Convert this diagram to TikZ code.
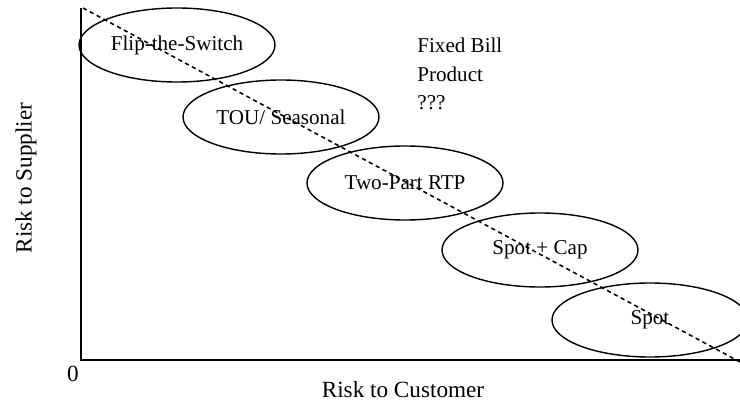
\documentclass[tikz,border=0pt]{standalone}
\usepackage{fontspec}
\setmainfont{Liberation Serif}
\usetikzlibrary{shapes.geometric,positioning}

\begin{document}
\begin{tikzpicture}[line width=1pt, font=\fontsize{15}{20.5}\selectfont,
  plan/.style={ellipse, draw, line width=1pt, minimum width=4.9cm, minimum height=1.85cm, inner sep=0pt},
  axlabel/.style={font=\fontsize{16.5}{20}\selectfont}]
  \useasboundingbox (0,0) rectangle (18.5,10.125);
  % axes
  \coordinate (origin) at (2.025,1.125);
  \coordinate (ytop) at (2.025,9.925);
  \coordinate (xend) at (18.5,1.125);
  \draw[line width=1.4pt] (ytop) -- (origin) -- (xend);
  \node[axlabel] (zero) at (1.82,0.78) {0};
  \node[axlabel] (xlabel) at (10.075,0.375) {Risk to Customer};
  \node[axlabel, rotate=90] (ylabel) at (0.65,5.675) {Risk to Supplier};

  % products
  \node[plan] (flip) at (4.425,9.0) {Flip-the-Switch};
  \node[plan] (tou) at (7.025,7.2) {TOU/ Seasonal};
  \node[plan] (rtp) at (10.125,5.55) {Two-Part RTP};
  \node[plan] (spotcap) at (13.5,3.875) {Spot + Cap};
  \node[plan] (spot) at (16.25,2.125) {Spot};
  \node[align=left, anchor=west] (fixed) at (10.3,8.275) {Fixed Bill\\Product\\???};

  % trade-off line
  \coordinate (dtop) at (2.075,9.925);
  \coordinate (dend) at (18.5,1.075);
  \draw[dashed, dash pattern=on 3pt off 2.5pt, line width=1.1pt] (dtop) -- (dend);
\end{tikzpicture}
\end{document}
